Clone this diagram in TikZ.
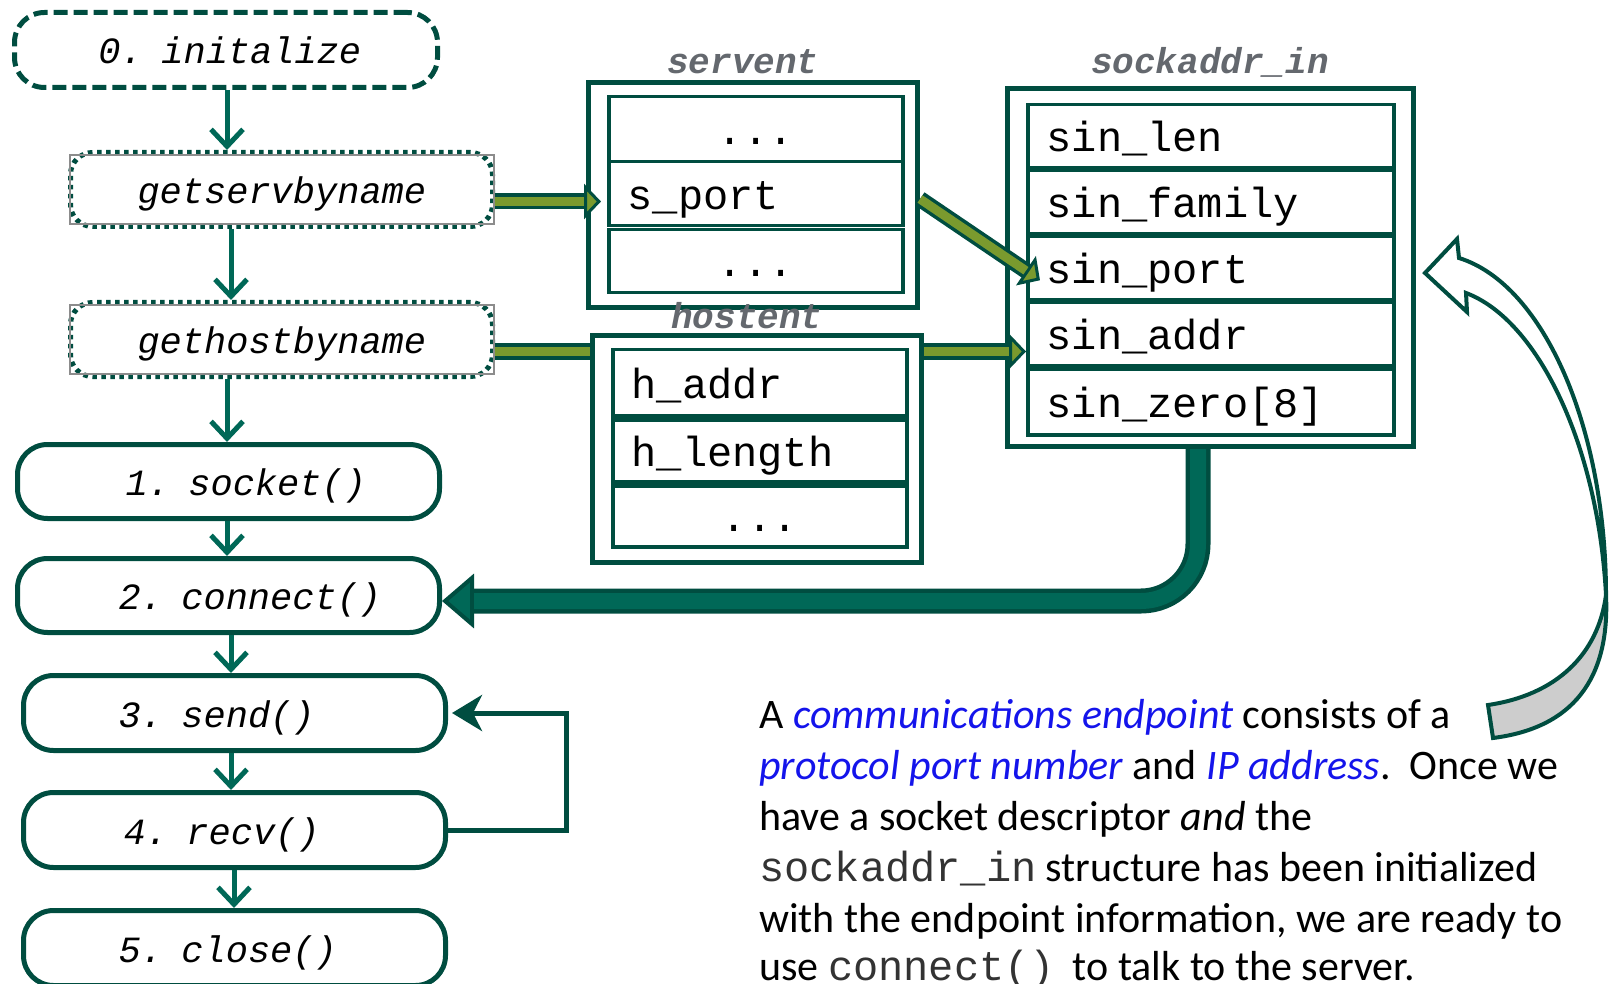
\documentclass[tikz,border=0pt]{standalone}
\usepackage{fontspec}
\setmainfont{Carlito}
\setmonofont{Liberation Mono}
\usetikzlibrary{arrows.meta,calc}
\definecolor{dkgreen}{RGB}{0,77,64}
\definecolor{tealc}{RGB}{0,104,87}
\definecolor{olivec}{RGB}{122,154,46}
\definecolor{linkblue}{RGB}{20,20,235}
\definecolor{titlegray}{RGB}{100,104,110}
\definecolor{tailgray}{RGB}{205,205,205}
\definecolor{boxgray}{RGB}{140,140,140}
\newcommand\flowfont{\fontsize{37}{44}\selectfont\ttfamily\itshape}
\newcommand\rowfont{\fontsize{42}{50}\selectfont\ttfamily}
\newcommand\titlefont{\fontsize{36}{42}\selectfont\ttfamily\bfseries\itshape}
\newcommand\parafont{\fontsize{42}{51}\selectfont}
\newcommand\blu[1]{{\color{linkblue}\itshape #1}}
\newcommand\pmono[1]{{\ttfamily\color{black!80}#1}}
\begin{document}
\begin{tikzpicture}[x=1pt,y=-1pt,
  fbox/.style={draw=dkgreen, line width=5pt, rounded corners=30pt, minimum height=74pt, text width=422pt, inner xsep=0pt, inner ysep=0pt, align=left, font=\flowfont, text height=33pt, text depth=5pt, anchor=north west},
  initbox/.style={fbox, text width=423pt, minimum height=75pt, dash pattern=on 14pt off 6pt},
  dotbox/.style={fbox, line width=5pt, rounded corners=22pt, dash pattern=on 4.5pt off 4.5pt},
  flowar/.style={draw=tealc, line width=5pt, -{Straight Barb[length=17pt,width=32pt]}},
  loopar/.style={draw=dkgreen, line width=5pt, -{Stealth[length=30pt,width=36pt,inset=9pt]}},
  outer/.style={draw=dkgreen, line width=5pt, fill=white, inner sep=0pt, anchor=north west},
  row/.style={draw=dkgreen, line width=3.5pt, fill=white, inner xsep=19pt, inner ysep=0pt, align=left, font=\rowfont, text height=37pt, text depth=6pt, anchor=north west},
  title/.style={font=\titlefont, text=titlegray, anchor=base, inner sep=0pt},
  olout/.style={draw=dkgreen, line width=16pt, -{Triangle[length=17pt,width=35pt,fill=olivec,line width=3pt]}},
  olin/.style={draw=olivec, line width=9pt, shorten >=17pt},
  bigout/.style={draw=dkgreen, line width=25pt, rounded corners=57pt, -{Triangle[length=32pt,width=54pt,fill=tealc,line width=4pt]}},
  bigin/.style={draw=tealc, line width=16pt, rounded corners=57pt, shorten >=32pt},
  para/.style={font=\parafont, anchor=base west, inner sep=0pt}
]
\useasboundingbox (0,0) rectangle (1612,984);

% flowchart
\node[initbox] (init) at (12,10) {\hspace*{84pt}0. initalize};
\node[dotbox] (gs) at (68,150) {\hspace*{67pt}getservbyname};
\draw[boxgray, line width=2pt] ($(gs.north west)+(2,5)$) rectangle ($(gs.south east)+(-1,-5)$);
\node[dotbox] (gh) at (68,300) {\hspace*{67pt}gethostbyname};
\draw[boxgray, line width=2pt] ($(gh.north west)+(2,5)$) rectangle ($(gh.south east)+(-1,-5)$);
\node[fbox] (sock1) at (15,442) {\hspace*{108pt}1. socket()};
\node[fbox] (connect) at (15,556) {\hspace*{101pt}2. connect()};
\node[fbox, minimum height=75pt] (send) at (21,673) {\hspace*{95pt}3. send()};
\node[fbox, minimum height=75pt] (recv) at (21,790) {\hspace*{100pt}4. recv()};
\node[fbox, minimum height=75pt] (close) at (21,908) {\hspace*{95pt}5. close()};

\draw[flowar] (init.south -| 227,0) -- (gs.north -| 227,0);
\draw[flowar] (gs.south -| 231,0) -- (gh.north -| 231,0);
\draw[flowar] (gh.south -| 227,0) -- (sock1.north -| 227,0);
\draw[flowar] (sock1.south -| 227,0) -- (connect.north -| 227,0);
\draw[flowar] (connect.south -| 231,0) -- (send.north -| 231,0);
\draw[flowar] (send.south -| 231,0) -- (recv.north -| 231,0);
\draw[flowar] (recv.south -| 234,0) -- (close.north -| 234,0);
\draw[loopar] (recv.east) -- ++(118,0) |- ([xshift=4pt]send.east);

% sockaddr_in
\node[title] (tsock) at (1210,74) {sockaddr\_in};
\node[outer, minimum width=406pt, minimum height=358pt] (sock) at (1005,86) {};
\node[row, text width=328pt, minimum height=63pt] (sinlen) at (1026,103) {sin\_len};
\node[row, text width=328pt, minimum height=63pt] (sinfam) at (1026,169) {sin\_family};
\node[row, text width=328pt, minimum height=63pt] (sinport) at (1026,235) {sin\_port};
\node[row, text width=328pt, minimum height=63pt] (sinaddr) at (1026,301) {sin\_addr};
\node[row, text width=328pt, minimum height=66pt] (sinzero) at (1026,367) {sin\_zero[8]};

% servent
\node[title] (tserv) at (743,74) {servent};
\node[outer, minimum width=329pt, minimum height=225pt] (servent) at (586,80) {};
\node[row, align=center, text width=256pt, minimum height=65pt] (sv1) at (607,95) {...};
\node[row, text width=256pt, minimum height=64pt] (sport) at (607,160) {s\_port};
\node[row, align=center, text width=256pt, minimum height=63pt] (sv3) at (607,228) {...};

% arrow through hostent (behind it)
\draw[olout] ($(gh.east)+(0,12)$) -- ($(sinaddr.west |- gh.east)+(0,12)$);
\draw[olin] ($(gh.east)+(0,12)$) -- ($(sinaddr.west |- gh.east)+(0,12)$);

% hostent
\node[title] (thost) at (747,329) {hostent};
\node[outer, minimum width=329pt, minimum height=227pt] (hostent) at (590,333) {};
\node[row, text width=256pt, minimum height=66pt] (haddr) at (611,348) {h\_addr};
\node[row, text width=256pt, minimum height=62pt] (hlen) at (611,418) {h\_length};
\node[row, align=center, text width=256pt, minimum height=61pt] (hd3) at (611,484) {...};

% olive arrows
\draw[olout] ($(gs.east)+(0,12)$) -- ($(sport.west |- gs.east)+(-6,12)$);
\draw[olin] ($(gs.east)+(0,12)$) -- ($(sport.west |- gs.east)+(-6,12)$);
\draw[olout] ($(servent.east)+(0,4)$) -- ($(sinport.west)+(14,12)$);
\draw[olin] ($(servent.east)+(0,4)$) -- ($(sinport.west)+(14,12)$);

% big arrow to connect
\coordinate (bend) at (1198,601);
\draw[bigout] (sock.south -| bend) -- (bend) -- (connect.east |- bend);
\draw[bigin] (sock.south -| bend) -- (bend) -- (connect.east |- bend);

% curved block arrow
\draw[dkgreen, line width=4pt, fill=tailgray] (1606,595) .. controls (1610,680) and (1572,728) .. (1493,738) -- (1488,705) .. controls (1556,695) and (1598,655) .. (1606,595) -- cycle;
\draw[dkgreen, line width=4pt, fill=white] (1459,258) .. controls (1545,285) and (1606,430) .. (1606,595) .. controls (1598,445) and (1538,320) .. (1466,293) -- (1467,312) -- (1425,273) -- (1457,239) -- cycle;

% paragraph
\node[para] (p1) at (759,728) {A \blu{communications endpoint} consists of a};
\node[para] (p2) at (759,779) {\blu{protocol port number} and \blu{IP address}.\ \ Once we};
\node[para] (p3) at (759,830) {have a socket descriptor \textit{and} the};
\node[para] (p4) at (759,881) {\pmono{sockaddr\_in} structure has been initialized};
\node[para] (p5) at (759,932) {with the endpoint information, we are ready to};
\node[para] (p6) at (759,980) {use \pmono{connect()}\hspace{18pt}to talk to the server.};
\end{tikzpicture}
\end{document}
